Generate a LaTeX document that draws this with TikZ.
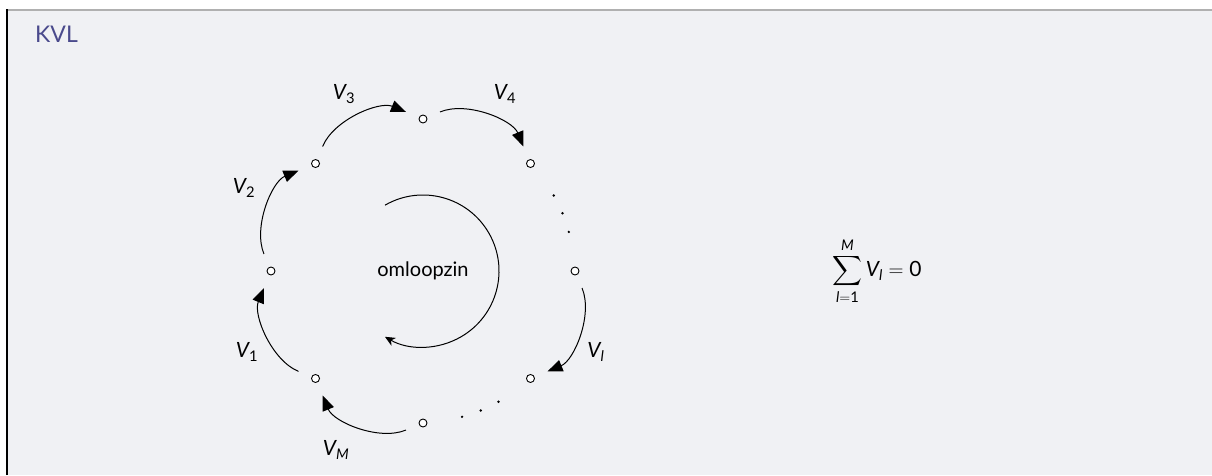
\documentclass[tikz,border=0pt]{standalone}
\usepackage{amsmath}
\usepackage{fontspec}
\setmainfont{Lato}
\usetikzlibrary{arrows.meta,calc}
\definecolor{panelbg}{RGB}{240,241,244}
\definecolor{titlecol}{RGB}{74,74,140}
\definecolor{rulegray}{RGB}{176,176,176}
\tikzset{
  ring/.style={circle,draw,fill=white,inner sep=0pt,minimum size=8pt,line width=0.9pt},
  volt/.style={-{Triangle[length=15pt,width=12pt]},line width=1pt,
               shorten <=14pt,shorten >=14pt},
  vlabel/.style={inner sep=0pt,font=\fontsize{21}{25}\selectfont},
  dotmark/.style={fill=black},
}
\begin{document}
\begin{tikzpicture}[x=1pt,y=1pt]
  % panel
  \useasboundingbox (0,0) rectangle (1212,475);
  \fill[white] (0,0) rectangle (1212,475);
  \fill[panelbg] (7,0) rectangle (1212,465);
  \draw[rulegray,line width=1.2pt] (7,465) -- (1212,465);
  \draw[black,line width=1.6pt] (7,0) -- (7,465.6);
  \node[anchor=base west,inner sep=0pt,text=titlecol,
        font=\fontsize{23}{27}\selectfont] (title) at (35,432) {KVL};

  % loop of nodes
  \coordinate (c) at (423,204);
  \foreach \n/\a in {top/90,ur/45,r/0,lr/-45,b/-90,ll/-135,l/180,ul/135}
    \node[ring] (\n) at ($(c)+(\a:152)$) {};

  % omitted branches
  \foreach \a in {30,22.5,15,-60,-67.5,-75}
    \fill[dotmark] ($(c)+(\a:151)$) circle (1.3pt);

  % branch voltages
  \draw[volt] (ll) to[bend left=45] (l);
  \draw[volt] (l) to[bend left=45] (ul);
  \draw[volt] (ul) to[bend left=45] (top);
  \draw[volt] (top) to[bend left=45] (ur);
  \draw[volt] (r) to[bend left=45] (lr);
  \draw[volt] (b) to[bend left=45] (ll);

  \node[vlabel] (v1) at (247,123) {$\mathit{V}_{\mathrm{1}}$};
  \node[vlabel] (v2) at (244,287) {$\mathit{V}_{\mathrm{2}}$};
  \node[vlabel] (v3) at (344,381) {$\mathit{V}_{\mathrm{3}}$};
  \node[vlabel] (v4) at (505,381) {$\mathit{V}_{\mathrm{4}}$};
  \node[vlabel] (vl) at (596,123) {$\mathit{V}_{\mathit{l}}$};
  \node[vlabel] (vm) at (336,25) {$\mathit{V}_{\mathit{M}}$};

  % sense of traversal
  \node[inner sep=0pt,font=\fontsize{20}{24}\selectfont] (zin) at (c) {omloopzin};
  \draw[line width=1pt,-{Stealth[length=10pt,width=9pt,inset=3pt]}]
    ($(c)+(120:76)$) arc[start angle=120,end angle=-120,radius=76];

  % Kirchhoff's voltage law
  \node[inner sep=0pt,font=\fontsize{21}{25}\selectfont] (kvl) at (877,204)
    {$\displaystyle\sum_{\mathit{l}=\mathrm{1}}^{\mathit{M}}\mathit{V}_{\mathit{l}}=\mathrm{0}$};
\end{tikzpicture}
\end{document}
